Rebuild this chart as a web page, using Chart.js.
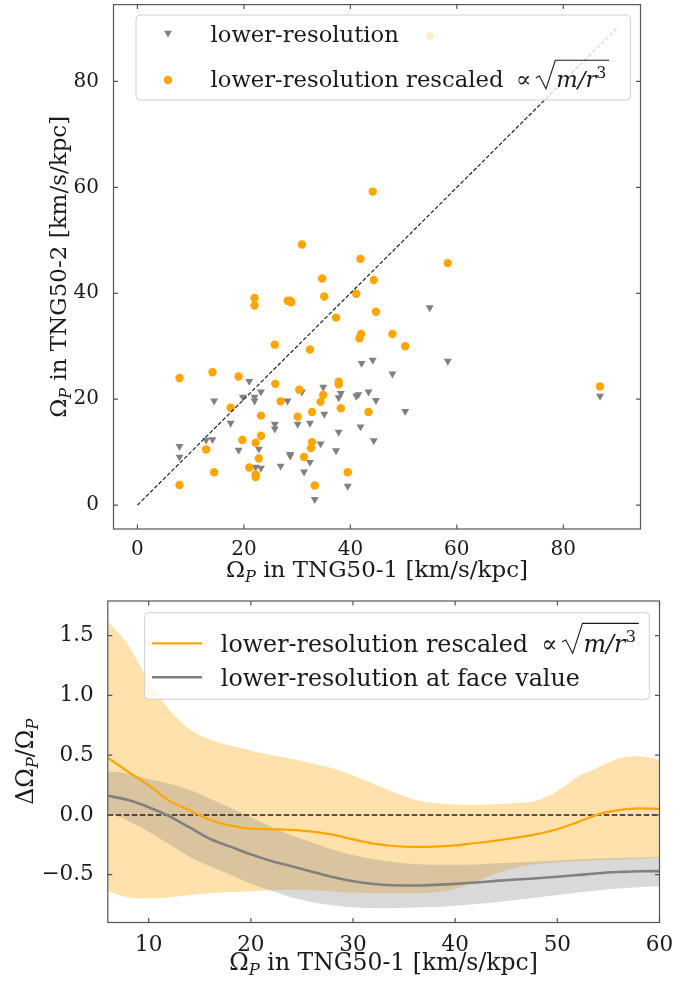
<!DOCTYPE html>
<html lang="en">
<head>
  <meta charset="UTF-8">
  <title>Pattern speeds: TNG50-1 vs TNG50-2</title>
  <script src="https://cdn.jsdelivr.net/npm/chart.js"></script>
  <style>
    body { margin: 0; background: #fff; width: 699px; height: 981px; overflow: hidden; position: relative; }
    canvas { position: absolute; left: 0; display: block; }
    #scatterChart { top: 0; }
    #diffChart { top: 590px; }
  </style>
</head>
<body>
  <canvas id="scatterChart" width="699" height="590"></canvas>
  <canvas id="diffChart" width="699" height="391"></canvas>

  <script>
    // ---- top panel: Omega_P in TNG50-1 (x) against TNG50-2 (y) ----
    const lowresX = [54.9, 58.3, 42.1, 44.2, 47.9, 21.0, 14.4, 19.8, 22.0, 22.0, 23.2, 28.2, 30.9, 34.9, 37.8, 38.2,
                     41.1, 41.5, 43.4, 44.8, 50.3, 17.5, 25.8, 25.8, 30.1, 32.4, 35.1, 37.8, 41.9, 12.9, 14.1, 7.9,
                     7.9, 19.0, 22.8, 28.7, 28.7, 34.4, 37.3, 44.4, 26.9, 22.2, 23.2, 31.3, 32.4, 39.5, 33.3, 86.9];
    const lowresY = [37.3, 27.2, 26.8, 27.4, 24.8, 23.4, 19.7, 20.4, 20.4, 19.7, 21.4, 19.7, 21.4, 22.3, 20.3, 21.1,
                     20.6, 20.9, 21.4, 19.8, 17.7, 15.5, 15.3, 14.4, 15.3, 15.5, 17.2, 13.8, 14.8, 12.3, 12.4, 11.1,
                     9.1, 10.4, 10.6, 9.6, 9.3, 11.6, 10.3, 12.2, 7.4, 7.2, 7.0, 6.3, 8.1, 3.6, 1.1, 20.6];
    const rescaledX = [22.0, 22.0, 28.2, 28.7, 28.9, 35.1, 41.1, 44.8, 37.3, 25.8, 32.4, 42.0, 41.7, 47.9, 50.3, 7.9,
                       14.1, 19.0, 25.9, 30.4, 37.8, 37.8, 34.9, 34.4, 26.9, 17.5, 23.2, 30.1, 32.8, 38.2, 43.4, 23.2,
                       19.7, 22.2, 32.8, 32.6, 12.9, 22.8, 31.3, 21.0, 22.2, 22.2, 14.4, 39.5, 7.9, 33.3, 86.9, 44.2,
                       30.9, 41.9, 58.3, 34.7, 44.4, 54.9];
    const rescaledY = [39.1, 37.7, 38.6, 38.6, 38.3, 39.4, 39.9, 36.5, 35.4, 30.3, 29.4, 32.3, 31.5, 32.3, 30.0, 24.0,
                       25.1, 24.3, 22.9, 21.8, 23.3, 22.8, 20.8, 19.5, 19.6, 18.4, 16.9, 16.7, 17.6, 18.3, 17.6, 13.1,
                       12.3, 11.8, 11.9, 10.8, 10.5, 8.8, 9.1, 7.1, 5.8, 5.3, 6.2, 6.2, 3.8, 3.7, 22.4, 59.2,
                       49.2, 46.5, 45.7, 42.8, 42.5, 88.6];
    const oneToOne = [0, 90];
    const scatterTicks = [0, 20, 40, 60, 80];

    // ---- bottom panel: relative difference against Omega_P in TNG50-1 ----
    const omegaGrid = [6, 8, 10, 12, 14, 16, 18, 20, 22, 24, 26, 28, 30, 32, 34, 36, 38, 40, 42, 44, 46, 48, 50, 52, 54, 56, 58, 60];
    const rescaledMedian = [0.48, 0.36, 0.25, 0.12, 0.04, -0.04, -0.09, -0.115, -0.12, -0.125, -0.14, -0.165, -0.205, -0.24,
                            -0.26, -0.268, -0.265, -0.255, -0.235, -0.215, -0.19, -0.16, -0.12, -0.06, 0.005, 0.04, 0.055, 0.05];
    const rescaledUpper = [1.62, 1.42, 1.12, 0.88, 0.72, 0.63, 0.58, 0.54, 0.5, 0.47, 0.43, 0.39, 0.33, 0.26,
                           0.19, 0.13, 0.1, 0.088, 0.085, 0.09, 0.1, 0.12, 0.2, 0.32, 0.4, 0.47, 0.49, 0.46];
    const rescaledLower = [-0.64, -0.69, -0.7, -0.69, -0.67, -0.655, -0.645, -0.64, -0.63, -0.625, -0.63, -0.64, -0.65, -0.655,
                           -0.655, -0.655, -0.65, -0.62, -0.56, -0.49, -0.44, -0.41, -0.395, -0.385, -0.378, -0.372, -0.365, -0.36];
    const faceMedian = [0.16, 0.125, 0.065, -0.01, -0.105, -0.2, -0.265, -0.33, -0.385, -0.43, -0.475, -0.52, -0.555, -0.578,
                        -0.588, -0.591, -0.585, -0.577, -0.565, -0.552, -0.54, -0.53, -0.517, -0.503, -0.488, -0.478, -0.471, -0.47];
    const faceUpper = [0.365, 0.345, 0.3, 0.26, 0.21, 0.135, 0.06, -0.02, -0.1, -0.17, -0.23, -0.29, -0.335, -0.37,
                       -0.393, -0.41, -0.416, -0.417, -0.415, -0.405, -0.397, -0.39, -0.382, -0.372, -0.365, -0.36, -0.357, -0.355];
    const faceLower = [0.02, -0.05, -0.14, -0.245, -0.35, -0.43, -0.5, -0.575, -0.635, -0.69, -0.73, -0.755, -0.773, -0.78,
                       -0.78, -0.775, -0.77, -0.76, -0.745, -0.73, -0.71, -0.69, -0.67, -0.65, -0.63, -0.615, -0.605, -0.597];
    const diffXTicks = [10, 20, 30, 40, 50, 60];
    const diffYTicks = [-0.5, 0, 0.5, 1.0, 1.5];

    const SERIF = '"DejaVu Serif", serif';
    const INK = '#1a1a1a';
    Chart.defaults.font.family = SERIF;
    Chart.defaults.color = INK;

    const pairs = (xs, ys) => xs.map((x, i) => ({ x, y: ys[i] }));

    // small rich-text helper: parts are [text, kind], kind = r | i | sub | sup
    function fontFor(kind, size) {
      const small = kind === 'sub' || kind === 'sup';
      const italic = kind === 'i' || kind === 'sub';
      return (italic ? 'italic ' : '') + (small ? size * 0.7 : size) + 'px ' + SERIF;
    }
    function shiftFor(kind, size) {
      if (kind === 'sub') return size * 0.2;
      if (kind === 'sup') return -size * 0.38;
      return 0;
    }
    function measureRun(ctx, parts, size) {
      let w = 0;
      for (const [t, k] of parts) { ctx.font = fontFor(k, size); w += ctx.measureText(t).width; }
      return w;
    }
    function drawRun(ctx, parts, x, y, size) {
      let cx = x;
      for (const [t, k] of parts) {
        ctx.font = fontFor(k, size);
        ctx.fillText(t, cx, y + shiftFor(k, size));
        cx += ctx.measureText(t).width;
      }
      return cx;
    }

    // "lower-resolution rescaled  ∝ √(m/r³)" with a drawn radical
    function drawRescaledLabel(ctx, text, x, y, size) {
      let cx = drawRun(ctx, [[text, 'r']], x, y, size);
      cx += size * 0.55;
      cx = drawRun(ctx, [['\u221D', 'r']], cx, y, size);
      cx += size * 0.2;
      const inner = [['m/r', 'i'], ['3', 'sup']];
      const body = cx + size * 0.9;
      const end = body + measureRun(ctx, inner, size) + size * 0.12;
      const top = y - size * 1.18;
      ctx.beginPath();
      ctx.moveTo(cx, y - size * 0.4);
      ctx.lineTo(cx + size * 0.16, y - size * 0.48);
      ctx.lineTo(cx + size * 0.45, y + size * 0.08);
      ctx.lineTo(body - size * 0.04, top);
      ctx.lineTo(end, top);
      ctx.lineWidth = 1.1;
      ctx.strokeStyle = INK;
      ctx.stroke();
      drawRun(ctx, inner, body, y, size);
    }

    // frame with inward ticks on all four sides
    const framePlugin = {
      id: 'frame',
      afterDatasetsDraw(chart) {
        const { ctx, chartArea: a, scales: { x, y } } = chart;
        const len = 4.5;
        ctx.save();
        ctx.strokeStyle = '#555';
        ctx.lineWidth = 1.2;
        ctx.strokeRect(a.left, a.top, a.right - a.left, a.bottom - a.top);
        ctx.beginPath();
        x.ticks.forEach(t => {
          const px = x.getPixelForValue(t.value);
          ctx.moveTo(px, a.bottom); ctx.lineTo(px, a.bottom - len);
          ctx.moveTo(px, a.top); ctx.lineTo(px, a.top + len);
        });
        y.ticks.forEach(t => {
          const py = y.getPixelForValue(t.value);
          ctx.moveTo(a.left, py); ctx.lineTo(a.left + len, py);
          ctx.moveTo(a.right, py); ctx.lineTo(a.right - len, py);
        });
        ctx.stroke();
        ctx.restore();
      }
    };

    // legend box drawn inside the plot, matplotlib style
    const boxLegendPlugin = {
      id: 'boxLegend',
      afterDraw(chart, args, opts) {
        const ctx = chart.ctx;
        const [bx, by, bw, bh] = opts.box;
        ctx.save();
        ctx.beginPath();
        ctx.roundRect(bx, by, bw, bh, 4);
        ctx.fillStyle = 'rgba(255,255,255,0.8)';
        ctx.fill();
        ctx.strokeStyle = '#d0d0d0';
        ctx.lineWidth = 1;
        ctx.stroke();
        ctx.textAlign = 'left';
        ctx.textBaseline = 'alphabetic';
        opts.items.forEach(it => {
          const ds = chart.data.datasets[it.dataset];
          if (it.marker === 'line') {
            ctx.beginPath();
            ctx.moveTo(it.mx - 25, it.my);
            ctx.lineTo(it.mx + 25, it.my);
            ctx.strokeStyle = ds.borderColor;
            ctx.lineWidth = ds.borderWidth;
            ctx.stroke();
          } else {
            ctx.fillStyle = ds.pointBackgroundColor;
            Chart.helpers.drawPoint(ctx, {
              pointStyle: ds.pointStyle, rotation: ds.pointRotation || 0,
              radius: ds.pointRadius, borderWidth: 0
            }, it.mx, it.my);
          }
          ctx.fillStyle = INK;
          if (it.sqrt) drawRescaledLabel(ctx, it.text, it.tx, it.ty, opts.size);
          else drawRun(ctx, [[it.text, 'r']], it.tx, it.ty, opts.size);
        });
        ctx.restore();
      }
    };

    // axis titles with subscripts
    const titlesPlugin = {
      id: 'richTitles',
      afterDraw(chart, args, opts) {
        const { ctx, chartArea: a } = chart;
        const size = opts.size;
        ctx.save();
        ctx.fillStyle = INK;
        ctx.textAlign = 'left';
        ctx.textBaseline = 'alphabetic';
        const wx = measureRun(ctx, opts.x, size);
        drawRun(ctx, opts.x, (a.left + a.right) / 2 - wx / 2, opts.xBaseline, size);
        const wy = measureRun(ctx, opts.y, size);
        ctx.translate(opts.yBaseline, (a.top + a.bottom) / 2);
        ctx.rotate(-Math.PI / 2);
        drawRun(ctx, opts.y, -wy / 2, 0, size);
        ctx.restore();
      }
    };

    // ---- top chart ----
    const topTickFont = { family: SERIF, size: 20 };
    new Chart(document.getElementById('scatterChart'), {
      type: 'scatter',
      data: {
        datasets: [
          {
            label: 'one-to-one',
            data: oneToOne.map(v => ({ x: v, y: v })),
            showLine: true,
            borderColor: '#111',
            borderWidth: 1.1,
            borderDash: [4, 2],
            pointRadius: 0,
            order: 0
          },
          {
            label: 'lower-resolution rescaled',
            data: pairs(rescaledX, rescaledY),
            pointStyle: 'circle',
            pointRadius: 4.2,
            pointBackgroundColor: '#ffa500',
            pointBorderWidth: 0,
            order: 1
          },
          {
            label: 'lower-resolution',
            data: pairs(lowresX, lowresY),
            pointStyle: 'triangle',
            pointRotation: 180,
            pointRadius: 4.6,
            pointBackgroundColor: '#808080',
            pointBorderWidth: 0,
            order: 2
          }
        ]
      },
      options: {
        responsive: false,
        animation: false,
        events: [],
        layout: { padding: { top: 2, right: 58.5, left: 0, bottom: 0 } },
        scales: {
          x: {
            type: 'linear', min: -4.5, max: 94.5,
            grid: { display: false }, border: { display: false },
            ticks: { font: topTickFont, color: INK, padding: 1, maxRotation: 0 },
            afterBuildTicks: s => { s.ticks = scatterTicks.map(v => ({ value: v })); },
            afterFit: s => { s.height = 61; s.paddingLeft = 0; s.paddingRight = 0; }
          },
          y: {
            type: 'linear', min: -4.5, max: 94.5,
            grid: { display: false }, border: { display: false },
            ticks: { font: topTickFont, color: INK, padding: 6.5 },
            afterBuildTicks: s => { s.ticks = scatterTicks.map(v => ({ value: v })); },
            afterFit: s => { s.width = 113.5; s.paddingTop = 0; s.paddingBottom = 0; }
          }
        },
        plugins: {
          legend: { display: false },
          tooltip: { enabled: false },
          boxLegend: {
            size: 22.7,
            box: [136, 15, 494.5, 85],
            items: [
              { dataset: 2, marker: 'point', mx: 168, my: 33, tx: 210.5, ty: 42, text: 'lower-resolution' },
              { dataset: 1, marker: 'point', mx: 168, my: 80, tx: 210.5, ty: 87, text: 'lower-resolution rescaled', sqrt: true }
            ]
          },
          richTitles: {
            size: 23,
            x: [['\u03A9', 'r'], ['P', 'sub'], [' in TNG50-1 [km/s/kpc]', 'r']],
            y: [['\u03A9', 'r'], ['P', 'sub'], [' in TNG50-2 [km/s/kpc]', 'r']],
            xBaseline: 577,
            yBaseline: 66
          }
        }
      },
      plugins: [framePlugin, boxLegendPlugin, titlesPlugin]
    });

    // ---- bottom chart ----
    const band = (ys, color, fill, order) => ({
      data: pairs(omegaGrid, ys),
      borderColor: 'rgba(0,0,0,0)',
      borderWidth: 0,
      backgroundColor: color,
      fill,
      pointRadius: 0,
      cubicInterpolationMode: 'monotone',
      order
    });

    const bottomTickFont = { family: SERIF, size: 21.5 };
    new Chart(document.getElementById('diffChart'), {
      type: 'line',
      data: {
        datasets: [
          {
            label: 'lower-resolution rescaled',
            data: pairs(omegaGrid, rescaledMedian),
            borderColor: '#ffa500',
            borderWidth: 2.2,
            pointRadius: 0,
            cubicInterpolationMode: 'monotone',
            fill: false,
            order: 0
          },
          {
            label: 'lower-resolution at face value',
            data: pairs(omegaGrid, faceMedian),
            borderColor: '#808080',
            borderWidth: 2.6,
            pointRadius: 0,
            cubicInterpolationMode: 'monotone',
            fill: false,
            order: 1
          },
          {
            label: 'zero',
            data: [{ x: omegaGrid[0], y: 0 }, { x: omegaGrid[omegaGrid.length - 1], y: 0 }],
            borderColor: '#222',
            borderWidth: 1.4,
            borderDash: [5.5, 2.5],
            pointRadius: 0,
            fill: false,
            order: 2
          },
          band(faceUpper, 'rgba(128,128,128,0.3)', '+1', 3),
          band(faceLower, 'rgba(0,0,0,0)', false, 4),
          band(rescaledUpper, 'rgba(255,165,0,0.33)', '+1', 5),
          band(rescaledLower, 'rgba(0,0,0,0)', false, 6)
        ]
      },
      options: {
        responsive: false,
        animation: false,
        events: [],
        layout: { padding: { top: 11, right: 39.5, left: 0, bottom: 0 } },
        scales: {
          x: {
            type: 'linear', min: 6, max: 60,
            grid: { display: false }, border: { display: false },
            ticks: { font: bottomTickFont, color: INK, padding: 2, maxRotation: 0 },
            afterBuildTicks: s => { s.ticks = diffXTicks.map(v => ({ value: v })); },
            afterFit: s => { s.height = 58.5; s.paddingLeft = 0; s.paddingRight = 0; }
          },
          y: {
            type: 'linear', min: -0.9, max: 1.79,
            grid: { display: false }, border: { display: false },
            ticks: {
              font: bottomTickFont, color: INK, padding: 6,
              callback: v => v.toFixed(1).replace('-', '\u2212')
            },
            afterBuildTicks: s => { s.ticks = diffYTicks.map(v => ({ value: v })); },
            afterFit: s => { s.width = 107.8; s.paddingTop = 0; s.paddingBottom = 0; }
          }
        },
        plugins: {
          legend: { display: false },
          tooltip: { enabled: false },
          boxLegend: {
            size: 23.8,
            box: [144.6, 22.7, 504.8, 86.6],
            items: [
              { dataset: 0, marker: 'line', mx: 177, my: 53.3, tx: 220.8, ty: 61.5, text: 'lower-resolution rescaled', sqrt: true },
              { dataset: 1, marker: 'line', mx: 177, my: 87.3, tx: 220.8, ty: 96, text: 'lower-resolution at face value' }
            ]
          },
          richTitles: {
            size: 23.5,
            x: [['\u03A9', 'r'], ['P', 'sub'], [' in TNG50-1 [km/s/kpc]', 'r']],
            y: [['\u0394\u03A9', 'r'], ['P', 'sub'], ['/\u03A9', 'r'], ['P', 'sub']],
            xBaseline: 380,
            yBaseline: 33
          }
        }
      },
      plugins: [framePlugin, boxLegendPlugin, titlesPlugin]
    });
  </script>
</body>
</html>
